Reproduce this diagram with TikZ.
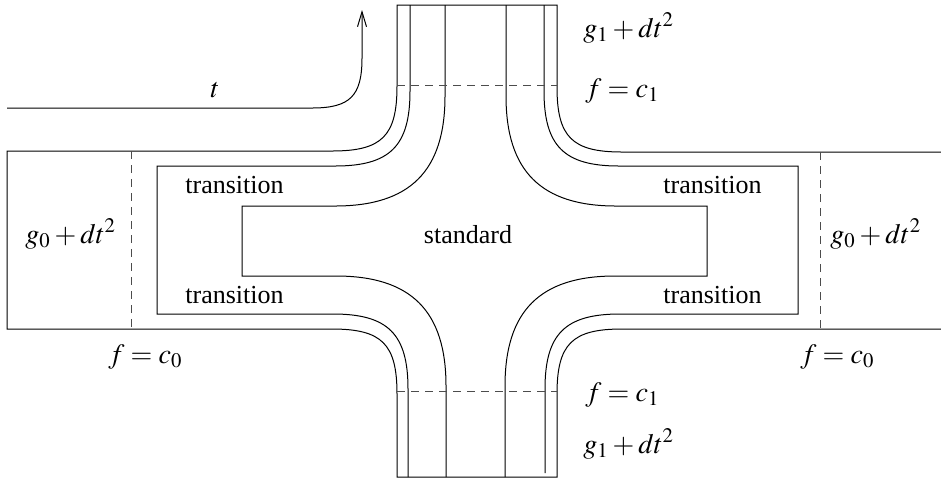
\documentclass[tikz,border=0pt]{standalone}
\usepackage{mathptmx}
\usepackage[no-math]{fontspec}
\setmainfont{Liberation Serif}
\newfontfamily\txtserif{Liberation Serif}
\usetikzlibrary{arrows.meta}
\begin{document}
\begin{tikzpicture}[x=0.5pt,y=-0.5pt,
  wall/.style={line width=0.5pt, line join=miter},
  cut/.style={line width=0.5pt, black!70, dash pattern=on 4pt off 3pt},
  lbl/.style={inner sep=0pt, font=\txtserif\fontsize{13}{16}\selectfont},
  mlbl/.style={inner sep=0pt, font=\fontsize{14}{17}\selectfont},
  flow/.style={line width=0.5pt, -{Straight Barb[length=7.5pt,width=4.5pt]}}]
\useasboundingbox (0,0) rectangle (941,479);
% outer boundary
\draw[wall] (941,152) -- (622,152) .. controls (572,152) and (557,137) .. (557,87)
  -- (557,5) -- (397,5) -- (397,86) .. controls (397,136) and (382,151) .. (332,151)
  -- (7,151) -- (7,329) -- (332,329) .. controls (382,329) and (397,344) .. (397,394)
  -- (397,477) -- (557,477) -- (557,394) .. controls (557,344) and (572,329) .. (622,329)
  -- (941,329);
% transition boundary
\draw[wall] (410,5) -- (410,91) .. controls (410,146) and (390,166) .. (335,166)
  -- (157,166) -- (157,314) -- (333,314) .. controls (388,314) and (408,334) .. (408,389)
  -- (408,477);
\draw[wall] (544,5) -- (544,91) .. controls (544,146) and (564,166) .. (619,166)
  -- (798,166) -- (798,314) -- (620,314) .. controls (565,314) and (545,334) .. (545,389)
  -- (545,473);
% standard boundary
\draw[wall] (445,5) -- (445,96) .. controls (445,171) and (410,206) .. (335,206)
  -- (242,206) -- (242,276) -- (336,276) .. controls (411,276) and (446,311) .. (446,386)
  -- (446,477);
\draw[wall] (506,5) -- (506,96) .. controls (506,171) and (541,206) .. (616,206)
  -- (707,206) -- (707,276) -- (615,276) .. controls (540,276) and (505,311) .. (505,386)
  -- (505,477);
% level sets
\draw[cut] (397,85) -- (557,85);
\draw[cut] (397,391) -- (557,391);
\draw[cut] (131,151) -- (131,329);
\draw[cut] (820,152) -- (820,329);
% flow line t
\coordinate (ts) at (7,108);
\coordinate (tt) at (362,10);
\draw[flow] (ts) -- (312,108) .. controls (350,108) and (362,96) .. (362,58) -- (tt);
% labels
\node[mlbl, anchor=base] (tl) at (215,97) {$t$};
\node[mlbl, anchor=base west] (g1t) at (583,37) {$g_1+dt^2$};
\node[mlbl, anchor=base west] (f1t) at (585,97) {$f=c_1$};
\node[lbl, anchor=base west] (trA) at (185,193) {transition};
\node[lbl, anchor=base west] (trB) at (663,193) {transition};
\node[lbl, anchor=base] (std) at (468,243) {standard};
\node[mlbl, anchor=base west] (g0l) at (25,243) {$g_0+dt^2$};
\node[mlbl, anchor=base west] (g0r) at (830,243) {$g_0+dt^2$};
\node[lbl, anchor=base west] (trC) at (185,303) {transition};
\node[lbl, anchor=base west] (trD) at (663,303) {transition};
\node[mlbl, anchor=base west] (f0l) at (108,363) {$f=c_0$};
\node[mlbl, anchor=base west] (f0r) at (800,363) {$f=c_0$};
\node[mlbl, anchor=base west] (f1b) at (585,401) {$f=c_1$};
\node[mlbl, anchor=base west] (g1b) at (583,453) {$g_1+dt^2$};
\end{tikzpicture}
\end{document}
